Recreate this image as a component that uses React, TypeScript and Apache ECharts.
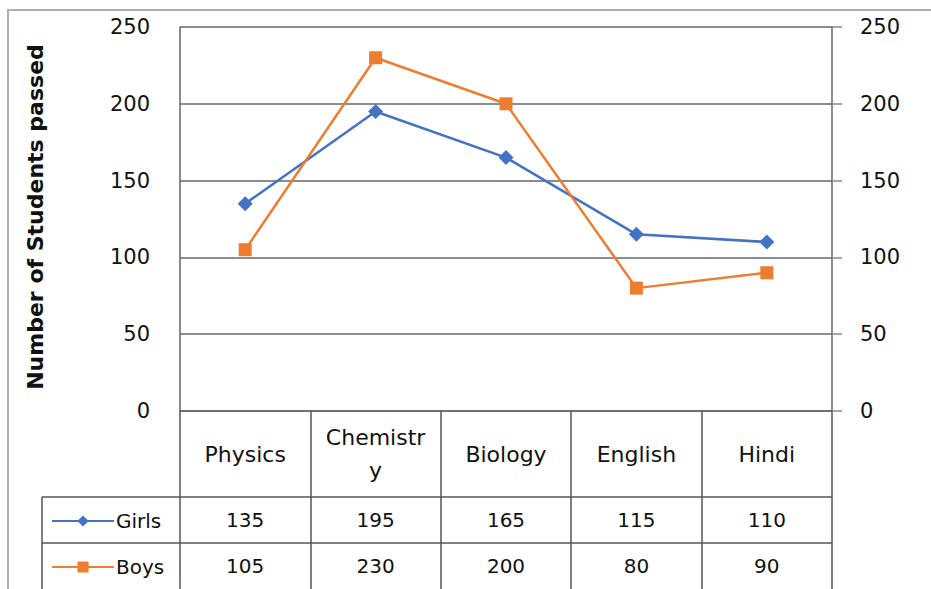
import React, { useEffect, useRef } from "react";
import * as echarts from "echarts";

const categories = ["Physics", "Chemistry", "Biology", "English", "Hindi"];
const girls = [135, 195, 165, 115, 110];
const boys = [105, 230, 200, 80, 90];
const yTicks = { min: 0, max: 250, interval: 50 };
const yTitle = "Number of Students passed";
const seriesNames = ["Girls", "Boys"];

const W = 931;
const H = 589;
const GL = 180;
const GR = 832;
const GT = 27;
const GB = 411;
const FONT = "DejaVu Sans";

export default function App() {
  const ref = useRef<HTMLDivElement>(null);
  useEffect(() => {
    document.body.style.margin = "0";
    if (!ref.current) return;
    const chart = echarts.init(ref.current, null, { renderer: "svg" });
    const colW = (GR - GL) / categories.length;
    const row1 = 497;
    const row2 = 543;
    const lineColor = "#555";
    const graphics: any[] = [
      {
        type: "polyline",
        shape: { points: [[8, H], [8, 10], [W, 10]] },
        style: { stroke: "#b0b0b0", lineWidth: 2, fill: "none" },
      },
      {
        type: "line",
        shape: { x1: 42, y1: row1, x2: GR, y2: row1 },
        style: { stroke: lineColor, lineWidth: 1.5 },
      },
      {
        type: "line",
        shape: { x1: 42, y1: row2, x2: GR, y2: row2 },
        style: { stroke: lineColor, lineWidth: 1.5 },
      },
      {
        type: "line",
        shape: { x1: 42, y1: row1, x2: 42, y2: H },
        style: { stroke: lineColor, lineWidth: 1.5 },
      },
      {
        type: "text",
        x: 35,
        y: 217,
        rotation: Math.PI / 2,
        style: {
          text: yTitle,
          font: `bold 22px "${FONT}"`,
          fill: "#111",
          textAlign: "center",
          textVerticalAlign: "middle",
        },
      },
    ];
    [girls, boys].forEach((vals, r) => {
      vals.forEach((v, i) => {
        graphics.push({
          type: "text",
          x: GL + (i + 0.5) * colW,
          y: r === 0 ? 520 : 566,
          style: {
            text: String(v),
            font: `20px "${FONT}"`,
            fill: "#111",
            textAlign: "center",
            textVerticalAlign: "middle",
          },
        });
      });
    });

    const axisLabelStyle = { fontFamily: FONT, fontSize: 21, color: "#111" };
    const legendText = { fontFamily: FONT, fontSize: 20, color: "#111", padding: [0, 0, 0, -3] };
    chart.setOption({
      animation: false,
      backgroundColor: "#fff",
      grid: { left: GL, right: W - GR, top: GT, bottom: H - GB, containLabel: false },
      xAxis: {
        type: "category",
        data: categories,
        boundaryGap: true,
        axisLine: { show: true, lineStyle: { color: "#666", width: 1.5 } },
        axisTick: { show: true, length: H - GB, lineStyle: { color: lineColor, width: 1.5 } },
        axisLabel: {
          fontFamily: FONT,
          fontSize: 22,
          color: "#111",
          margin: 43,
          verticalAlign: "middle",
          lineHeight: 33,
          interval: 0,
          formatter: (v: string) => (v === "Chemistry" ? "Chemistr\ny" : v),
        },
        splitLine: { show: false },
      },
      yAxis: [
        {
          type: "value",
          position: "left",
          ...yTicks,
          axisLine: { show: true, lineStyle: { color: "#666", width: 1.5 } },
          axisTick: { show: false },
          axisLabel: { ...axisLabelStyle, margin: 30 },
          splitLine: { show: true, lineStyle: { color: "#8c8c8c", width: 2 } },
        },
        {
          type: "value",
          position: "right",
          ...yTicks,
          axisLine: { show: true, lineStyle: { color: "#666", width: 1.5 } },
          axisTick: { show: true, length: 10, lineStyle: { color: "#888", width: 1.5 } },
          axisLabel: { ...axisLabelStyle, margin: 28 },
          splitLine: { show: false },
        },
      ],
      legend: [
        {
          data: [seriesNames[0]],
          orient: "vertical",
          left: 46,
          top: 506,
          itemWidth: 62,
          itemHeight: 14,
          textStyle: legendText,
        },
        {
          data: [seriesNames[1]],
          orient: "vertical",
          left: 46,
          top: 552,
          itemWidth: 62,
          itemHeight: 14,
          textStyle: legendText,
        },
      ],
      series: [
        {
          name: seriesNames[0],
          type: "line",
          data: girls,
          symbol: "diamond",
          symbolSize: 15,
          lineStyle: { color: "#4472C4", width: 2.5 },
          itemStyle: { color: "#4472C4" },
        },
        {
          name: seriesNames[1],
          type: "line",
          data: boys,
          symbol: "rect",
          symbolSize: 13,
          lineStyle: { color: "#ED7D31", width: 2.5 },
          itemStyle: { color: "#ED7D31" },
        },
      ],
      graphic: graphics,
    });
    return () => chart.dispose();
  }, []);
  return <div ref={ref} style={{ width: W, height: H }} />;
}
